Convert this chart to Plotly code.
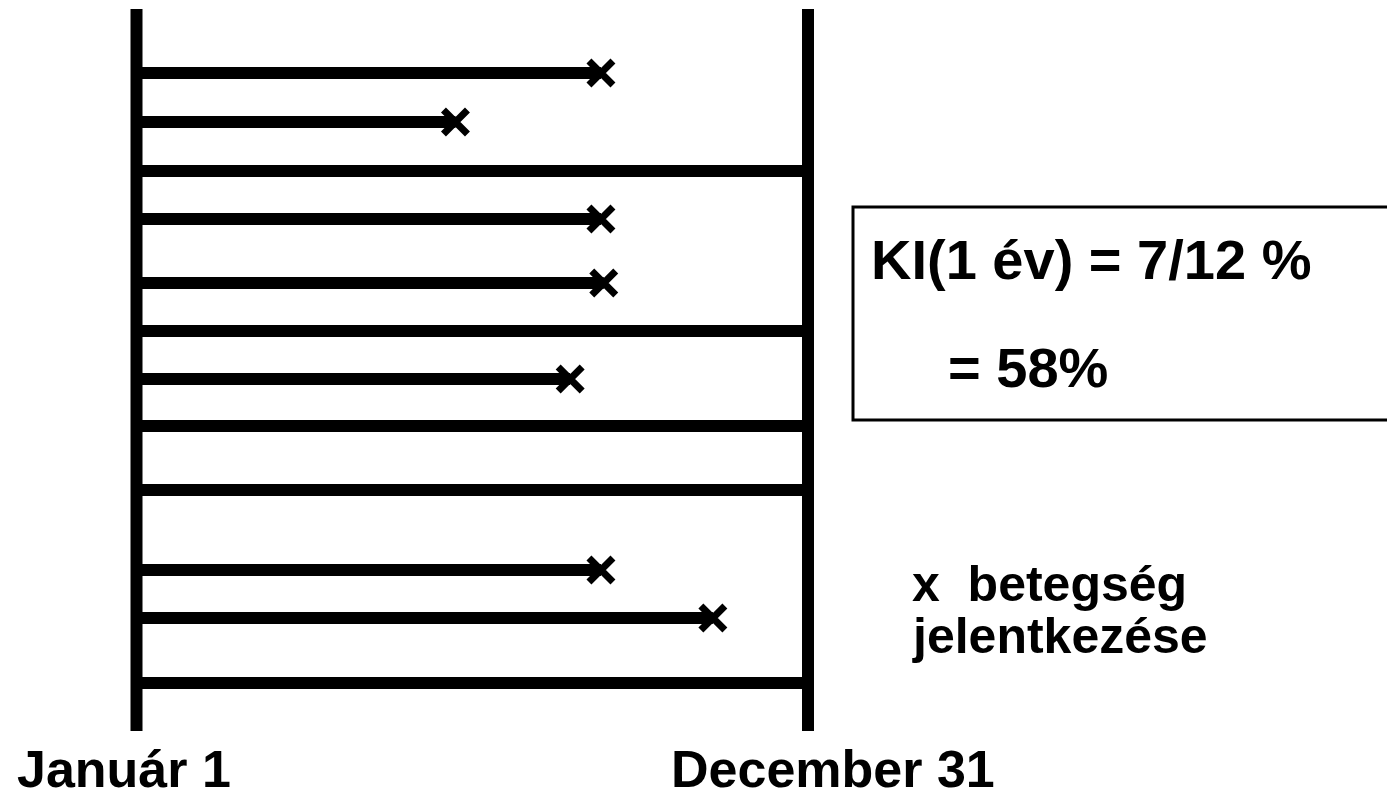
import plotly.graph_objects as go

# --- data ---
# follow-up time of each subject in months from January 1 (12 = December 31)
followup_months = [8.3, 5.7, 12, 8.3, 8.35, 12, 7.75, 12, 12, 8.3, 10.3, 12]
# 1 = disease onset (x), 0 = no event during the year
event = [1, 1, 0, 1, 1, 0, 1, 0, 0, 1, 1, 0]
# vertical position of each subject's row (row units, top = small)
row_pos = [73, 122, 171, 219, 283, 331, 379, 426, 490, 570, 618, 683]

start_label = "Január 1"
end_label = "December 31"
formula_line1 = "KI(1 év) = 7/12 %"
formula_line2 = "= 58%"
legend_line1 = "x\u00a0\u00a0betegség"
legend_line2 = "jelentkezése"

YEAR_START, YEAR_END = 0, 12

W, H = 1387, 799
FONT = "Liberation Sans, Arial, sans-serif"

fig = go.Figure()

# subject follow-up lines
for t, y in zip(followup_months, row_pos):
    fig.add_trace(go.Scatter(
        x=[YEAR_START, t], y=[y, y], mode="lines",
        line=dict(color="black", width=12),
        hoverinfo="skip", showlegend=False,
    ))

# event markers
ex = [t for t, e in zip(followup_months, event) if e]
ey = [y for y, e in zip(row_pos, event) if e]
fig.add_trace(go.Scatter(
    x=ex, y=ey, mode="markers",
    marker=dict(symbol="x-thin", size=24, color="black",
                line=dict(color="black", width=7)),
    hoverinfo="skip", showlegend=False,
))

# start / end of year vertical lines
for xv in (YEAR_START, YEAR_END):
    fig.add_shape(type="line", xref="x", yref="y",
                  x0=xv, x1=xv, y0=9, y1=731,
                  line=dict(color="black", width=12))

# result box
fig.add_shape(type="rect", xref="paper", yref="paper",
              x0=853 / W, x1=1.01, y0=1 - 420 / H, y1=1 - 207 / H,
              line=dict(color="black", width=3), fillcolor="rgba(0,0,0,0)")


def ann(text, px, py, size):
    fig.add_annotation(text=text, xref="paper", yref="paper",
                       x=px / W, y=1 - py / H, xanchor="left", yanchor="middle",
                       showarrow=False,
                       font=dict(family=FONT, size=size, color="black", weight="bold"))


ann(formula_line1, 869, 260, 56)
ann(formula_line2, 946, 367, 56)
ann(legend_line1, 910, 584, 50)
ann(legend_line2, 910, 636, 50)
ann(start_label, 15, 769, 52)
ann(end_label, 669, 769, 52)

px_per_month = (808 - 136.5) / (YEAR_END - YEAR_START)
fig.update_xaxes(range=[-136.5 / px_per_month, (W - 136.5) / px_per_month],
                 visible=False, showgrid=False, zeroline=False)
fig.update_yaxes(range=[H, 0], visible=False, showgrid=False, zeroline=False)

fig.update_layout(width=W, height=H, margin=dict(l=0, r=0, t=0, b=0),
                  plot_bgcolor="white", paper_bgcolor="white")

fig.write_html("out.html",
               config={"displayModeBar": False},
               post_script="document.body.style.margin='0';"
                           "document.body.style.overflow='hidden';")
